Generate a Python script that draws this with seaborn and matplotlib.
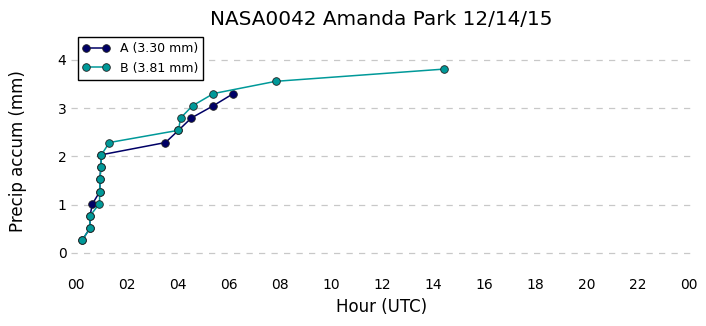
import matplotlib
matplotlib.use("Agg")
import matplotlib.pyplot as plt
import seaborn as sns
import pandas as pd

# Data (hours UTC, cumulative precip mm)
hours_a = [0.24, 0.55, 0.55, 0.65, 0.94, 0.94, 0.98, 1.00, 3.51, 4.02, 4.52, 5.38, 6.17]
accum_a = [0.254, 0.508, 0.762, 1.016, 1.270, 1.524, 1.778, 2.032, 2.286, 2.540, 2.794, 3.048, 3.302]
hours_b = [0.24, 0.55, 0.55, 0.92, 0.94, 0.94, 0.98, 1.00, 1.31, 4.02, 4.10, 4.57, 5.39, 7.83, 14.43]
accum_b = [0.254, 0.508, 0.762, 1.016, 1.270, 1.524, 1.778, 2.032, 2.286, 2.540, 2.794, 3.048, 3.302, 3.556, 3.810]
series_labels = ["A (3.30 mm)", "B (3.81 mm)"]
tick_hours = list(range(0, 25, 2))
tick_labels = ["00", "02", "04", "06", "08", "10", "12", "14", "16", "18", "20", "22", "00"]

sns.set_style("white")
plt.rcParams['font.family'] = ['DejaVu Sans']
plt.rcParams['text.color'] = 'black'
plt.rcParams['axes.labelcolor'] = 'black'
plt.rcParams['xtick.color'] = 'black'
plt.rcParams['ytick.color'] = 'black'

df = pd.concat([
    pd.DataFrame({"hour": hours_a, "accum": accum_a, "series": series_labels[0]}),
    pd.DataFrame({"hour": hours_b, "accum": accum_b, "series": series_labels[1]}),
], ignore_index=True)

fig = plt.figure(figsize=(7.06, 3.26), dpi=100)
ax = fig.add_axes([71.3 / 706, (326 - 272) / 326, (691 - 71.3) / 706, 241 / 326])

colors = {series_labels[0]: "#000066", series_labels[1]: "#009999"}
for lab in series_labels:
    sub = df[df["series"] == lab]
    sns.lineplot(data=sub, x="hour", y="accum", ax=ax, sort=False, estimator=None,
                 color=colors[lab], marker="o", markersize=5.5, markeredgecolor="#222222",
                 markeredgewidth=0.6, linewidth=1.1, label=lab)

ax.set_xlim(-0.18, 24.1)
ax.set_ylim(-0.4, 4.6)
ax.set_xticks(tick_hours)
ax.set_xticklabels(tick_labels)
ax.set_yticks([0, 1, 2, 3, 4])
ax.tick_params(axis="x", length=0, labelsize=10, pad=4.5)
ax.tick_params(axis="y", length=0, labelsize=10, pad=3.5)
ax.grid(axis="y", linestyle=(0, (5, 5)), color="#c8c8c8", linewidth=0.9)
ax.grid(axis="x", visible=False)
for s in ax.spines.values():
    s.set_visible(False)

ax.set_title("NASA0042 Amanda Park 12/14/15", fontsize=14.4, pad=4.5, color="black")
ax.set_xlabel("Hour (UTC)", fontsize=12, labelpad=4)
ax.set_ylabel("Precip accum (mm)", fontsize=12, labelpad=22)

leg = ax.legend(loc="upper left", fontsize=9, frameon=True, fancybox=False,
                edgecolor="black", framealpha=1, numpoints=2, borderaxespad=0.5,
                handlelength=2.2)
leg.get_frame().set_linewidth(1.0)

fig.savefig("out.png", dpi=100)
